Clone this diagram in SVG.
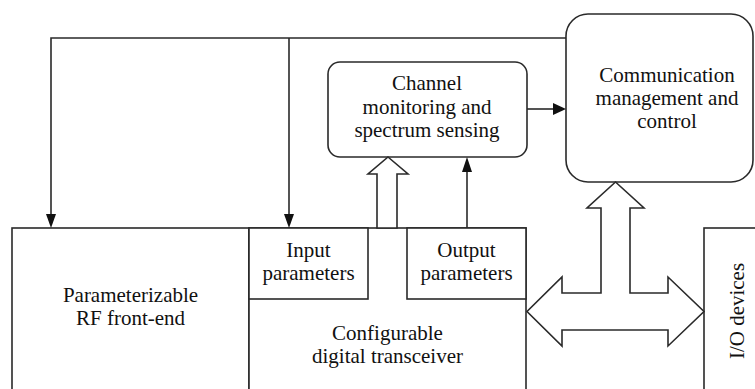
<svg xmlns="http://www.w3.org/2000/svg" width="755" height="389" viewBox="0 0 755 389">
<style>
.box{fill:#fff;stroke:#2a2a2a;stroke-width:1.6}
.ln{fill:none;stroke:#2a2a2a;stroke-width:1.6}
.hollow{fill:#fff;stroke:#2a2a2a;stroke-width:1.6;stroke-linejoin:miter}
.t{font-family:'Liberation Serif','DejaVu Serif',serif;font-size:21px;fill:#111;text-anchor:middle}
</style>
<rect width="755" height="389" fill="#fff"/>

<g id="rf-frontend">
<rect class="box" x="12" y="228" width="237" height="180"/>
<text class="t" font-family="Liberation Serif, serif" x="130.5" y="302">Parameterizable</text>
<text class="t" font-family="Liberation Serif, serif" x="130.5" y="325">RF front-end</text>
</g>

<g id="transceiver">
<rect class="box" x="249" y="228" width="277" height="180"/>
<text class="t" font-family="Liberation Serif, serif" x="387.5" y="340">Configurable</text>
<text class="t" font-family="Liberation Serif, serif" x="387.5" y="363">digital transceiver</text>
</g>

<g id="input-parameters">
<rect class="box" x="249" y="228" width="119" height="71"/>
<text class="t" font-family="Liberation Serif, serif" x="308.5" y="257">Input</text>
<text class="t" font-family="Liberation Serif, serif" x="308.5" y="280">parameters</text>
</g>

<g id="output-parameters">
<rect class="box" x="407" y="228" width="119" height="71"/>
<text class="t" font-family="Liberation Serif, serif" x="466.5" y="257">Output</text>
<text class="t" font-family="Liberation Serif, serif" x="466.5" y="280">parameters</text>
</g>

<g id="io-devices">
<rect class="box" x="704" y="228" width="70" height="180"/>
<text class="t" font-family="Liberation Serif, serif" transform="translate(744,311) rotate(-90)" x="0" y="0">I/O devices</text>
</g>

<g id="channel-monitoring">
<rect class="box" x="328" y="62" width="199" height="95" rx="12" ry="12"/>
<text class="t" font-family="Liberation Serif, serif" x="427" y="90">Channel</text>
<text class="t" font-family="Liberation Serif, serif" x="427" y="113.5">monitoring and</text>
<text class="t" font-family="Liberation Serif, serif" x="427" y="137">spectrum sensing</text>
</g>

<g id="comm-management">
<rect class="box" x="566" y="14" width="187" height="168" rx="22" ry="22"/>
<text class="t" font-family="Liberation Serif, serif" x="667" y="82">Communication</text>
<text class="t" font-family="Liberation Serif, serif" x="667" y="105">management and</text>
<text class="t" font-family="Liberation Serif, serif" x="667" y="128">control</text>
</g>

<g id="connectors">
<path class="ln" d="M566,38 H51 V214"/>
<path d="M46,214 L56,214 L51,228 Z" fill="#111"/>
<path class="ln" d="M289,38 V214"/>
<path d="M284,214 L294,214 L289,228 Z" fill="#111"/>
<path class="ln" d="M527,109 H553"/>
<path d="M553,103 L553,115 L566,109 Z" fill="#111"/>
<path class="ln" d="M467,228 V172"/>
<path d="M462,172 L472,172 L467,157 Z" fill="#111"/>
<polygon class="hollow" points="388,157 408,174 397,174 397,228 377,228 377,174 368,174"/>
<polygon class="hollow" points="615.5,182 644,208 630,208 630,293 668,293 668,277 704,311.5 668,346 668,330 562,330 562,346 527,311.5 562,277 562,293 601,293 601,208 587,208"/>
</g>
</svg>
